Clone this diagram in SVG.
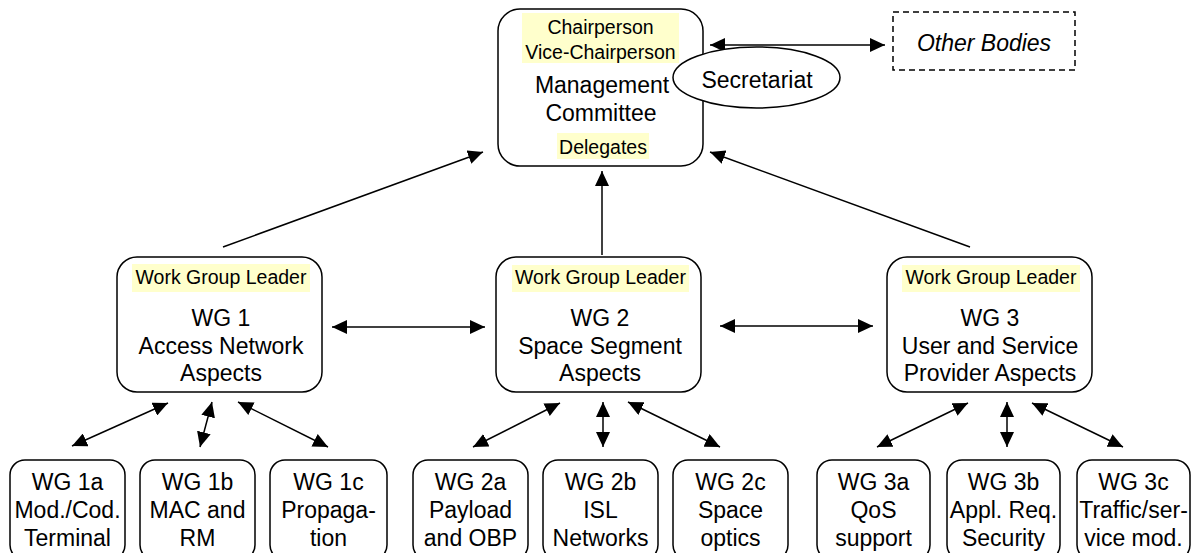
<svg xmlns="http://www.w3.org/2000/svg" width="1193" height="553" viewBox="0 0 1193 553">
<defs>
<marker id="ah" viewBox="0 0 15 14" refX="15" refY="7" markerWidth="15" markerHeight="14" markerUnits="userSpaceOnUse" orient="auto-start-reverse">
<path d="M0,0 L15,7 L0,14 Z" fill="#000"/>
</marker>
<style>
.box{fill:#fff;stroke:#000;stroke-width:1.5}
.hl{fill:#ffffcc;stroke:none}
.t{font-family:"Liberation Sans",Arial,sans-serif;font-size:23px;fill:#000;text-anchor:middle}
.s{font-family:"Liberation Sans",Arial,sans-serif;font-size:19.5px;fill:#000;text-anchor:middle}
.c{stroke:#000;stroke-width:1.5;fill:none;marker-end:url(#ah)}
.d{stroke:#000;stroke-width:1.5;fill:none;marker-end:url(#ah);marker-start:url(#ah)}
</style>
</defs>
<rect width="1193" height="553" fill="#fff"/>

<g id="connectors">
<line class="d" x1="710" y1="45" x2="885" y2="45"/>
<line class="c" x1="223" y1="247" x2="483" y2="152"/>
<line class="c" x1="602" y1="255" x2="602" y2="171"/>
<line class="c" x1="970" y1="247" x2="710" y2="152"/>
<line class="d" x1="332" y1="327" x2="485" y2="327"/>
<line class="d" x1="720" y1="326" x2="873" y2="326"/>
<line class="d" x1="168" y1="403" x2="72" y2="446"/>
<line class="d" x1="212" y1="402" x2="200" y2="447"/>
<line class="d" x1="238" y1="402" x2="328" y2="447"/>
<line class="d" x1="560" y1="403" x2="473" y2="447"/>
<line class="d" x1="603" y1="402" x2="603" y2="447"/>
<line class="d" x1="628" y1="402" x2="720" y2="447"/>
<line class="d" x1="968" y1="403" x2="877" y2="447"/>
<line class="d" x1="1007" y1="402" x2="1007" y2="447"/>
<line class="d" x1="1032" y1="403" x2="1123" y2="447"/>
</g>

<g id="mc">
<rect class="box" x="498" y="9" width="205" height="157" rx="22"/>
<rect class="hl" x="522" y="13" width="157" height="50"/>
<text class="s" x="600.5" y="34">Chairperson</text>
<text class="s" x="600.5" y="59">Vice-Chairperson</text>
<text class="t" x="602" y="93">Management</text>
<text class="t" x="601" y="121">Committee</text>
<rect class="hl" x="557" y="133" width="92" height="26"/>
<text class="s" x="603" y="154">Delegates</text>
</g>

<g id="secretariat">
<ellipse class="box" cx="756.5" cy="77.5" rx="83.5" ry="30.5"/>
<text class="t" x="757" y="88">Secretariat</text>
</g>

<g id="other">
<rect x="893" y="12" width="182" height="58" fill="#fff" stroke="#000" stroke-width="1.5" stroke-dasharray="6,4"/>
<text class="t" x="984" y="51" font-style="italic">Other Bodies</text>
</g>

<g id="wg1">
<rect class="box" x="117" y="257" width="205" height="135" rx="20"/>
<rect class="hl" x="132" y="264" width="178" height="28"/>
<text class="s" x="221" y="284">Work Group Leader</text>
<text class="t" x="221" y="326">WG 1</text>
<text class="t" x="221" y="354">Access Network</text>
<text class="t" x="221" y="381">Aspects</text>
</g>

<g id="wg2">
<rect class="box" x="496" y="257" width="205" height="135" rx="20"/>
<rect class="hl" x="512" y="265" width="177" height="27"/>
<text class="s" x="600.5" y="284">Work Group Leader</text>
<text class="t" x="600" y="326">WG 2</text>
<text class="t" x="600" y="354">Space Segment</text>
<text class="t" x="600" y="381">Aspects</text>
</g>

<g id="wg3">
<rect class="box" x="887" y="257" width="205" height="135" rx="20"/>
<rect class="hl" x="902" y="265" width="178" height="27"/>
<text class="s" x="991" y="284">Work Group Leader</text>
<text class="t" x="990" y="326">WG 3</text>
<text class="t" x="990" y="354">User and Service</text>
<text class="t" x="990" y="381">Provider Aspects</text>
</g>

<g id="wg1a">
<rect class="box" x="10" y="460" width="115" height="100" rx="15"/>
<text class="t" x="67.5" y="490">WG 1a</text>
<text class="t" x="67.5" y="518">Mod./Cod.</text>
<text class="t" x="67.5" y="546">Terminal</text>
</g>
<g id="wg1b">
<rect class="box" x="140" y="460" width="115" height="100" rx="15"/>
<text class="t" x="197.5" y="490">WG 1b</text>
<text class="t" x="197.5" y="518">MAC and</text>
<text class="t" x="197.5" y="546">RM</text>
</g>
<g id="wg1c">
<rect class="box" x="270" y="460" width="117" height="100" rx="15"/>
<text class="t" x="328.5" y="490">WG 1c</text>
<text class="t" x="328.5" y="518">Propaga-</text>
<text class="t" x="328.5" y="546">tion</text>
</g>
<g id="wg2a">
<rect class="box" x="413" y="460" width="115" height="100" rx="15"/>
<text class="t" x="470.5" y="490">WG 2a</text>
<text class="t" x="470.5" y="518">Payload</text>
<text class="t" x="470.5" y="546">and OBP</text>
</g>
<g id="wg2b">
<rect class="box" x="543" y="460" width="115" height="100" rx="15"/>
<text class="t" x="600.5" y="490">WG 2b</text>
<text class="t" x="600.5" y="518">ISL</text>
<text class="t" x="600.5" y="546">Networks</text>
</g>
<g id="wg2c">
<rect class="box" x="673" y="460" width="115" height="100" rx="15"/>
<text class="t" x="730.5" y="490">WG 2c</text>
<text class="t" x="730.5" y="518">Space</text>
<text class="t" x="730.5" y="546">optics</text>
</g>
<g id="wg3a">
<rect class="box" x="817" y="460" width="113" height="100" rx="15"/>
<text class="t" x="873.5" y="490">WG 3a</text>
<text class="t" x="873.5" y="518">QoS</text>
<text class="t" x="873.5" y="546">support</text>
</g>
<g id="wg3b">
<rect class="box" x="947" y="460" width="113" height="100" rx="15"/>
<text class="t" x="1003.5" y="490">WG 3b</text>
<text class="t" x="1003.5" y="518">Appl. Req.</text>
<text class="t" x="1003.5" y="546">Security</text>
</g>
<g id="wg3c">
<rect class="box" x="1077" y="460" width="113" height="100" rx="15"/>
<text class="t" x="1133.5" y="490">WG 3c</text>
<text class="t" x="1133.5" y="518">Traffic/ser-</text>
<text class="t" x="1133.5" y="546">vice mod.</text>
</g>
</svg>
